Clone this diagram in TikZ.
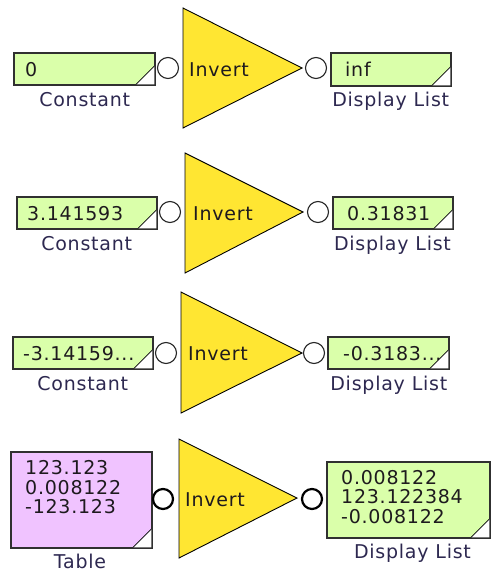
\documentclass[tikz,border=0pt]{standalone}
\usepackage{fontspec}
\setmainfont[LetterSpace=4]{DejaVu Sans}
\definecolor{boxgreen}{RGB}{218,255,170}
\definecolor{boxpink}{RGB}{240,195,255}
\definecolor{invyellow}{RGB}{255,230,50}
\definecolor{edgegray}{RGB}{48,48,48}
\definecolor{valtext}{RGB}{30,26,30}
\definecolor{labtext}{RGB}{45,40,80}
\tikzset{
  blockbox/.style={draw=edgegray, line width=1.3pt, anchor=north west, inner sep=0pt, outer sep=0pt},
  greenbox/.style={blockbox, fill=boxgreen},
  pinkbox/.style={blockbox, fill=boxpink},
  valtxt/.style={anchor=base west, text=valtext, inner sep=0pt},
  labtxt/.style={anchor=base, text=labtext, inner sep=0pt},
  invtxt/.style={anchor=base west, text=valtext, inner sep=0pt},
  porthollow/.style={circle, draw=black!85, line width=1.1pt, fill=white, minimum size=21pt, inner sep=0pt},
  portbold/.style={circle, draw=black, line width=2.2pt, fill=white, minimum size=20pt, inner sep=0pt},
  invtri/.style={draw=black, line width=0.9pt, fill=invyellow, line join=miter},
}
\newcommand{\cornermark}[1]{%
  \fill[white, shift={(#1.south east)}] (-0.65,-0.65) -- (-19,-0.65) -- (-0.65,-19) -- cycle;
  \draw[black, line width=0.8pt, shift={(#1.south east)}] (-19,-0.65) -- (-0.65,-19);
}
\begin{document}
\begin{tikzpicture}[x=1pt,y=-1pt, font=\fontsize{19}{19.5}\selectfont]
\useasboundingbox (0,0) rectangle (491,576);

% ---------- Row 1 ----------
\node[greenbox, minimum width=141pt, minimum height=32pt] (c1) at (14,53) {};
\cornermark{c1}
\node[valtxt] (v1) at (25,76) {0};
\node[labtxt] (l1) at (84.7,106) {Constant};
\node[porthollow] (pi1) at (168,68) {};
\draw[invtri] (183,8) coordinate (t1a) -- (183,128) coordinate (t1b) -- (302,68) coordinate (t1c) -- cycle;
\node[invtxt] (n1) at (189,76) {Invert};
\node[porthollow] (po1) at (316,68) {};
\node[greenbox, minimum width=120pt, minimum height=33pt] (d1) at (331,53) {};
\cornermark{d1}
\node[valtxt] (w1) at (345,76) {inf};
\node[labtxt] (m1) at (390.7,106) {Display List};

% ---------- Row 2 ----------
\node[greenbox, minimum width=140pt, minimum height=32pt] (c2) at (17,197) {};
\cornermark{c2}
\node[valtxt] (v2) at (27,220) {3.141593};
\node[labtxt] (l2) at (86.7,250) {Constant};
\node[porthollow] (pi2) at (170,212) {};
\draw[invtri] (185,153) coordinate (t2a) -- (185,273) coordinate (t2b) -- (303,212) coordinate (t2c) -- cycle;
\node[invtxt] (n2) at (193,220) {Invert};
\node[porthollow] (po2) at (318,212) {};
\node[greenbox, minimum width=120pt, minimum height=32pt] (d2) at (333,197) {};
\cornermark{d2}
\node[valtxt] (w2) at (347,220) {0.31831};
\node[labtxt] (m2) at (392.5,250) {Display List};

% ---------- Row 3 ----------
\node[greenbox, minimum width=140pt, minimum height=32pt] (c3) at (13,337) {};
\node[valtxt] (v3) at (23,360) {-3.14159...};
\cornermark{c3}
\node[labtxt] (l3) at (82.8,390) {Constant};
\node[porthollow] (pi3) at (166,353) {};
\draw[invtri] (181,292) coordinate (t3a) -- (181,413) coordinate (t3b) -- (302,353) coordinate (t3c) -- cycle;
\node[invtxt] (n3) at (188,360) {Invert};
\node[porthollow] (po3) at (314,353) {};
\node[greenbox, minimum width=121pt, minimum height=32pt] (d3) at (328,337) {};
\node[valtxt] (w3) at (343,360) {-0.3183...};
\cornermark{d3}
\node[labtxt] (m3) at (388.8,390) {Display List};

% ---------- Row 4 ----------
\node[pinkbox, minimum width=141pt, minimum height=96pt] (c4) at (11,452) {};
\cornermark{c4}
\node[valtxt] (v4a) at (25,474) {123.123};
\node[valtxt] (v4b) at (25,494) {0.008122};
\node[valtxt] (v4c) at (25,513) {-123.123};
\node[labtxt] (l4) at (80,568) {Table};
\node[portbold] (pi4) at (163,499) {};
\draw[invtri] (179,439) coordinate (t4a) -- (179,558) coordinate (t4b) -- (297,498) coordinate (t4c) -- cycle;
\node[invtxt] (n4) at (185,506) {Invert};
\node[portbold] (po4) at (312,499) {};
\node[greenbox, minimum width=163pt, minimum height=76pt] (d4) at (327,462) {};
\cornermark{d4}
\node[valtxt] (w4a) at (341,484) {0.008122};
\node[valtxt] (w4b) at (341,503) {123.122384};
\node[valtxt] (w4c) at (341,523) {-0.008122};
\node[labtxt] (m4) at (412.5,558) {Display List};
\end{tikzpicture}
\end{document}
